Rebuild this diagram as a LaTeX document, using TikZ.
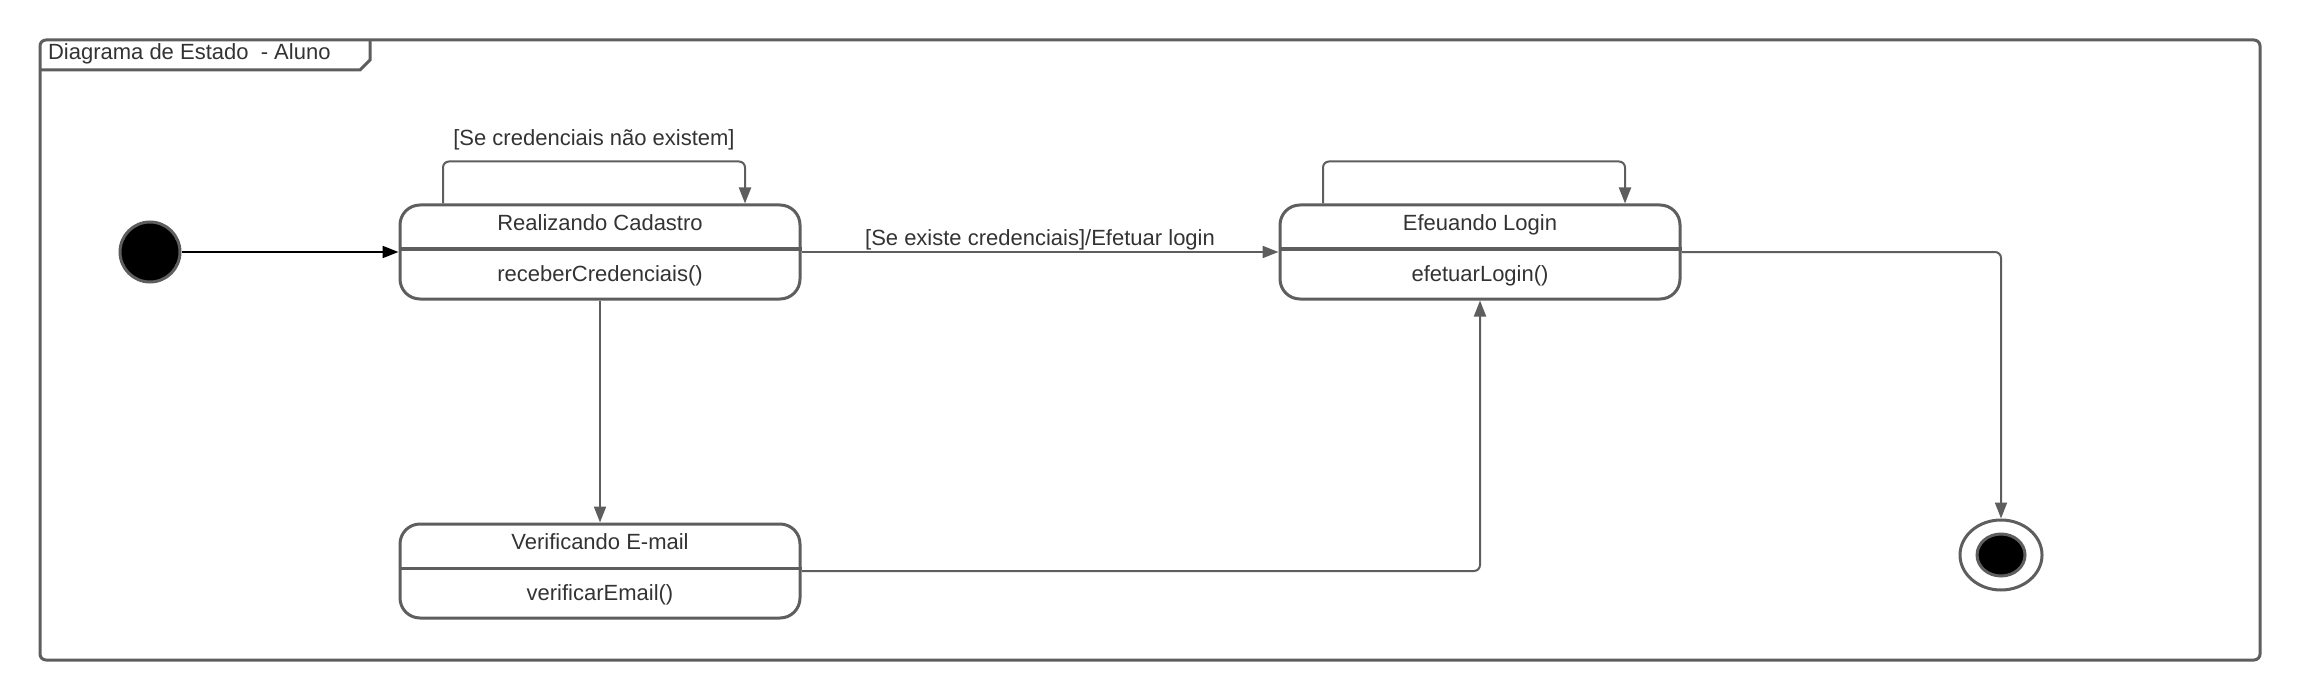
\documentclass[tikz,border=0pt]{standalone}
\usepackage{fontspec}
\setmainfont{Liberation Sans}
\usetikzlibrary{arrows.meta,positioning,shapes.geometric}
\definecolor{linha}{HTML}{5E5E5E}
\definecolor{texto}{HTML}{333333}

\begin{document}
\begin{tikzpicture}[x=0.5pt,y=-0.5pt, font=\fontsize{11}{13}\selectfont, text=texto,
  estado/.style={draw=linha, line width=1.5pt, rounded corners=10pt, minimum width=200pt, minimum height=47pt},
  divisor/.style={draw=linha, line width=1.5pt},
  rotulo/.style={text height=8pt, text depth=2.5pt},
  seta/.style={draw=linha, line width=1pt, rounded corners=3pt, -{Triangle[length=8pt,width=6pt]}}]
  \useasboundingbox (0,0) rectangle (2300,700);
  % moldura do diagrama
  \draw[linha, line width=1.5pt, rounded corners=3pt] (40,40) rectangle (2260,660);
  \draw[linha, line width=1.5pt] (40,70) -- (360,70) -- (370,60) -- (370,40);
  \node[anchor=base west] (titulo) at (41,60) {Diagrama de Estado~ - Aluno};

  % estados inicial e final
  \node[circle, fill=black, draw=linha, line width=1.5pt, minimum size=30pt, inner sep=0pt] (ini) at (150,252) {};
  \node[ellipse, draw=linha, line width=1.5pt, minimum width=41pt, minimum height=35pt, inner sep=0pt] (fim) at (2001,555) {};
  \node[ellipse, fill=black, draw=linha, line width=1.5pt, minimum width=24pt, minimum height=21pt, inner sep=0pt] (fimI) at (2001,555) {};

  % estados
  \node[estado] (cad) at (600,252) {};
  \draw[divisor] ([yshift=1.5pt]cad.west) -- ([yshift=1.5pt]cad.east);
  \node[rotulo] (cadT) at ([yshift=13.5pt]cad.center) {Realizando Cadastro};
  \node[rotulo] (cadO) at ([yshift=-12pt]cad.center) {receberCredenciais()};

  \node[estado] (log) at (1480,252) {};
  \draw[divisor] ([yshift=1.5pt]log.west) -- ([yshift=1.5pt]log.east);
  \node[rotulo] (logT) at ([yshift=13.5pt]log.center) {Efeuando Login};
  \node[rotulo] (logO) at ([yshift=-12pt]log.center) {efetuarLogin()};

  \node[estado] (ver) at (600,571) {};
  \draw[divisor] ([yshift=1.5pt]ver.west) -- ([yshift=1.5pt]ver.east);
  \node[rotulo] (verT) at ([yshift=13.5pt]ver.center) {Verificando E-mail};
  \node[rotulo] (verO) at ([yshift=-12pt]ver.center) {verificarEmail()};

  % transicoes
  \draw[seta, draw=black, -{Triangle[length=8pt,width=6pt]}] (ini) -- (cad.west);
  \draw[seta] ([xshift=-78.5pt]cad.north) -- ++(0,-42) -| node[pos=0.25, above=1.5pt, rotulo] {[Se credenciais não existem]} ([xshift=72.5pt]cad.north);
  \draw[seta] (cad.east) -- node[above, inner sep=0.5pt, rotulo] {[Se existe credenciais]/Efetuar login} (log.west);
  \draw[seta] ([xshift=-78.5pt]log.north) -- ++(0,-42) -| ([xshift=72.5pt]log.north);
  \draw[seta] (cad.south) -- (ver.north);
  \draw[seta] (ver.east) -| (log.south);
  \draw[seta] (log.east) -| (fim.north);
\end{tikzpicture}
\end{document}
